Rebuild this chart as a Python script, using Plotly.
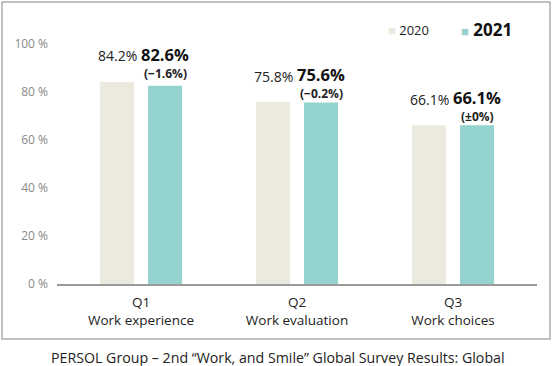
import plotly.graph_objects as go

categories = ["Q1<br>Work experience", "Q2<br>Work evaluation", "Q3<br>Work choices"]
values_2020 = [84.2, 75.8, 66.1]
values_2021 = [82.6, 75.6, 66.1]
change_labels = ["(−1.6%)", "(−0.2%)", "(±0%)"]
tick_vals = [0, 20, 40, 60, 80, 100]
tick_text = ["0 %", "20 %", "40 %", "60 %", "80 %", "100 %"]
caption = "PERSOL Group – 2nd “Work, and Smile” Global Survey Results: Global"

C2020 = "#ECE9DE"
C2021 = "#94D2CD"
FONT = "Open Sans"

# pixel geometry of plot area
L, R, T, B = 57, 537, 44, 284
W, H = 553, 366
PW, PH = R - L, B - T

cat_px = 156.0
bar_w = 34 / cat_px
gap = 14 / cat_px
off_2020 = -(bar_w + gap / 2)
off_2021 = gap / 2

xs = list(range(len(categories)))

fig = go.Figure()
fig.add_trace(go.Bar(x=xs, y=values_2020, width=bar_w, offset=off_2020,
                     marker=dict(color=C2020, line=dict(width=0)), name="2020"))
fig.add_trace(go.Bar(x=xs, y=values_2021, width=bar_w, offset=off_2021,
                     marker=dict(color=C2021, line=dict(width=0)), name="2021"))

c2020 = off_2020 + bar_w / 2
c2021 = off_2021 + bar_w / 2
for i, (a, b, ch) in enumerate(zip(values_2020, values_2021, change_labels)):
    top = max(a, b)
    fig.add_annotation(x=i + c2020, y=top, text=f"{a:.1f}%", showarrow=False,
                       yshift=26, font=dict(family=FONT, size=14, color="#222"))
    fig.add_annotation(x=i + c2021, y=top, text=f"<b>{b:.1f}%</b>", showarrow=False,
                       yshift=27.5, font=dict(family=FONT, size=16.5, color="#111"))
    fig.add_annotation(x=i + c2021, y=top, text=f"<b>{ch}</b>", showarrow=False,
                       yshift=8.5, font=dict(family=FONT, size=12, color="#222"))

# legend as text
fig.add_annotation(xref="paper", yref="paper", x=(386 - L) / PW, y=(B - 30) / PH,
                   xanchor="left", yanchor="middle", showarrow=False,
                   text=f"<span style='color:{C2020}'>■</span> 2020",
                   font=dict(family=FONT, size=13, color="#222"))
fig.add_annotation(xref="paper", yref="paper", x=(459 - L) / PW, y=(B - 30) / PH,
                   xanchor="left", yanchor="middle", showarrow=False,
                   text=f"<span style='color:{C2021};font-size:13px'>■</span> <b>2021</b>",
                   font=dict(family=FONT, size=17, color="#111"))

# caption
fig.add_annotation(xref="paper", yref="paper", x=(278 - L) / PW, y=(B - 357) / PH,
                   xanchor="center", yanchor="middle", showarrow=False,
                   text=caption, font=dict(family=FONT, size=14.2, color="#222"))

# border
fig.add_shape(type="rect", xref="paper", yref="paper",
              x0=(2 - L) / PW, x1=(550 - L) / PW, y0=(B - 339) / PH, y1=(B - 2) / PH,
              line=dict(color="#AAAAAA", width=1.5), fillcolor="rgba(0,0,0,0)", layer="below")

fig.update_layout(
    width=W, height=H,
    margin=dict(l=L, r=W - R, t=T, b=H - B),
    paper_bgcolor="white", plot_bgcolor="white",
    barmode="overlay", showlegend=False,
    font=dict(family=FONT),
    xaxis=dict(tickvals=xs, ticktext=categories, range=[-0.5 - 6 / cat_px, 2.5 + 6 / cat_px],
               showline=True, linecolor="#999999", linewidth=1.5, showgrid=False,
               ticks="", ticklabelstandoff=5,
               tickfont=dict(family=FONT, size=13.5, color="#222"), zeroline=False),
    yaxis=dict(range=[0, 100], tickvals=tick_vals, ticktext=tick_text, showgrid=False,
               zeroline=False, showline=False, ticks="", ticklabelstandoff=8,
               tickfont=dict(family=FONT, size=12, color="#888")),
)

fig.write_html("out.html", config={"displayModeBar": False},
               post_script="document.body.style.margin='0';document.body.style.overflow='hidden';")
